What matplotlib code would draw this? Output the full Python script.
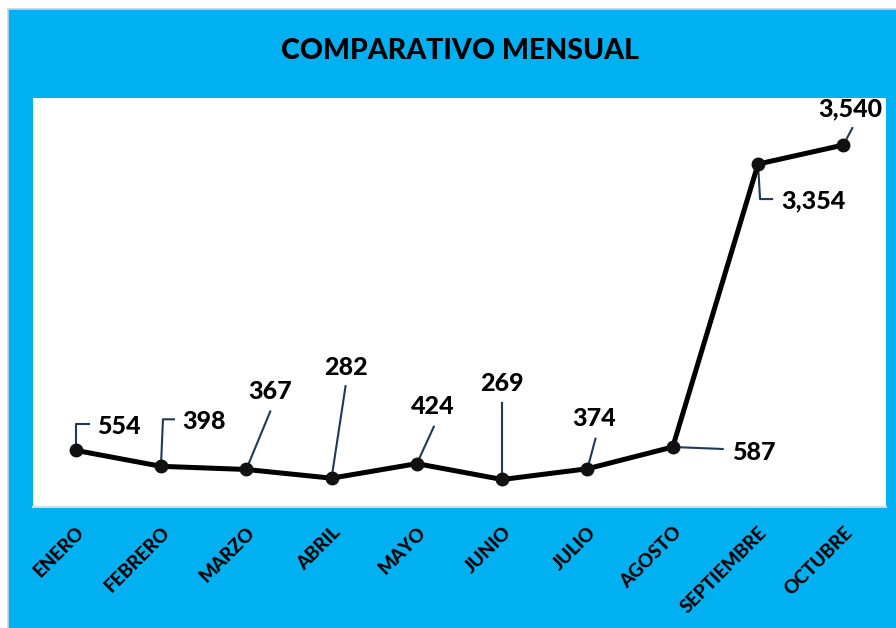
import matplotlib.pyplot as plt
import numpy as np
from matplotlib.patches import Rectangle

# datos
meses = ["ENERO", "FEBRERO", "MARZO", "ABRIL", "MAYO", "JUNIO",
         "JULIO", "AGOSTO", "SEPTIEMBRE", "OCTUBRE"]
valores = [554, 398, 367, 282, 424, 269, 374, 587, 3354, 3540]

# lineas guia de las etiquetas (pixeles desde el punto, y hacia arriba)
guias = [
    [(0, 0), (0, 26), (13, 26)],
    [(0, 0), (2, 47), (13, 47)],
    [(0, 0), (24, 58)],
    [(0, 0), (14, 92)],
    [(0, 0), (17, 37)],
    [(0, 0), (0, 76)],
    [(0, 0), (8, 30)],
    [(0, 0), (50, -2)],
    [(0, 0), (2, -35), (14, -35)],
    [(0, 0), (9, 17)],
]
pos_etiqueta = [(21, 24, "left"), (21, 45, "left"), (24, 78, "center"),
                (14, 111, "center"), (16, 57, "center"), (0, 96, "center"),
                (7, 50, "center"), (59, -6, "left"), (23, -37, "left"),
                (7, 36, "center")]

AZUL = "#00B0F0"
GUIA = "#1F3A57"
FUENTE = "Lato"

fig = plt.figure(figsize=(8.96, 6.28), dpi=100)
fig.patch.set_facecolor("white")
fig.patches.append(Rectangle((8 / 896, -0.01), 1.0, (628 - 9) / 628 + 0.01,
                             transform=fig.transFigure, facecolor=AZUL,
                             edgecolor="#D0D0D0", lw=1.2, zorder=-5))

ax = fig.add_axes([33 / 896, 121 / 628, 853 / 896, 409 / 628])
ax.set_zorder(2)
ax.set_facecolor("white")
x = np.arange(len(meses))
ax.set_xlim(-0.5, len(meses) - 0.5)
ax.set_ylim(0, 4000)

ax.plot(x, valores, color="black", lw=3.6, marker="o", markersize=9,
        markerfacecolor="#111111", markeredgecolor="#111111", zorder=3)

for i, v in enumerate(valores):
    base = ax.transData.transform((i, v))
    pts = base + np.array(guias[i], dtype=float)
    dat = ax.transData.inverted().transform(pts)
    ax.plot(dat[:, 0], dat[:, 1], color=GUIA, lw=1.5, zorder=2)
    dx, dy, ha = pos_etiqueta[i]
    ax.annotate(f"{v:,}", xy=(i, v), xytext=(dx, dy), textcoords="offset pixels",
                ha=ha, va="center", fontsize=18, fontweight="black",
                family=FUENTE, color="black", annotation_clip=False, zorder=4)

ax.set_yticks([])
ax.set_xticks(x)
ax.set_xticklabels(meses, rotation=45, ha="right", rotation_mode="anchor",
                   fontsize=13.5, fontweight="black", family=FUENTE, color="black")
ax.tick_params(axis="x", length=0, pad=12)
for s in ["top", "left", "right"]:
    ax.spines[s].set_visible(False)
ax.spines["bottom"].set_color("#D9D9D9")
ax.spines["bottom"].set_linewidth(1.5)

fig.text(460 / 896, 1 - 51 / 628, "COMPARATIVO MENSUAL", ha="center", va="center",
         fontsize=20.5, fontweight="black", family=FUENTE, color="black")

fig.savefig("out.png", dpi=100)
